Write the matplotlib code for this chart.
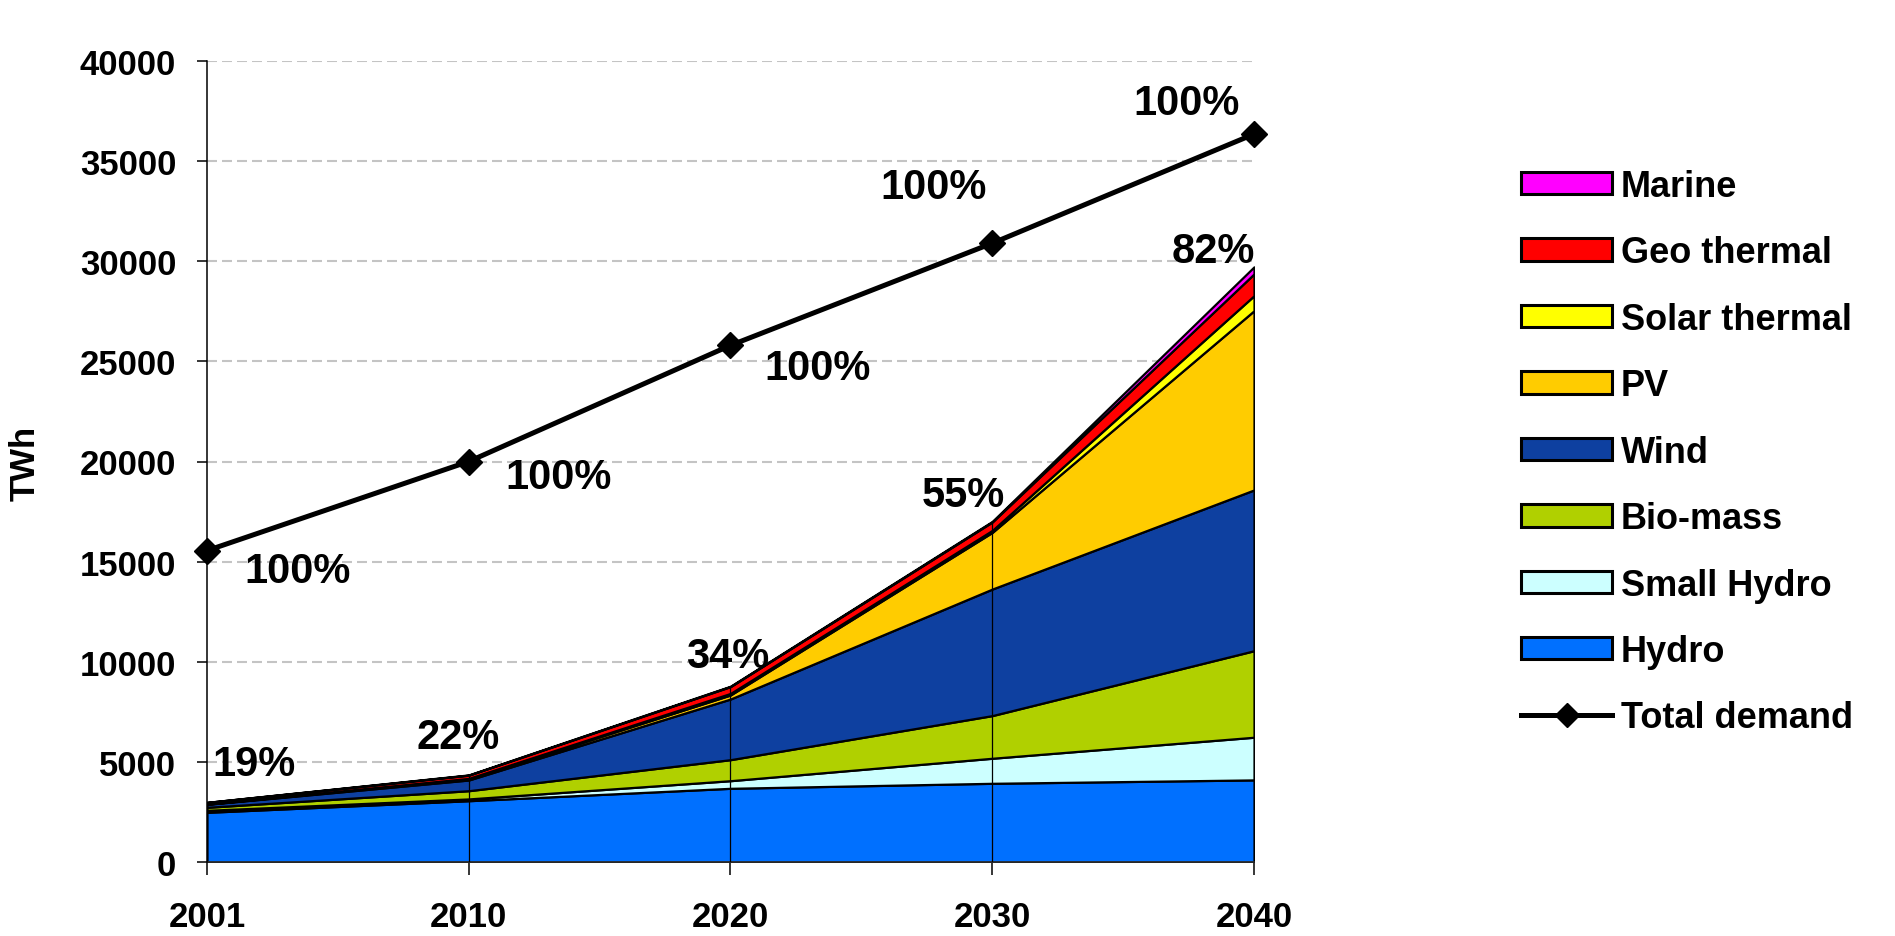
import matplotlib
matplotlib.use("Agg")
import matplotlib.pyplot as plt
from matplotlib.patches import Patch
from matplotlib.lines import Line2D
import numpy as np

plt.rcParams['font.family'] = ['Liberation Sans', 'DejaVu Sans']
plt.rcParams['lines.scale_dashes'] = False

# ---- data ----
years = ["2001", "2010", "2020", "2030", "2040"]
hydro = [2480, 3060, 3680, 3930, 4100]
small_hydro = [100, 90, 380, 1250, 2130]
bio_mass = [150, 410, 1050, 2130, 4320]
wind = [150, 535, 3030, 6320, 8030]
pv = [10, 60, 200, 2830, 8950]
solar_thermal = [5, 20, 80, 100, 750]
geo_thermal = [80, 160, 340, 420, 1090]
marine = [5, 15, 20, 30, 350]
total_demand = [15550, 20000, 25800, 30900, 36350]
renewable_share = ["19%", "22%", "34%", "55%", "82%"]
demand_share = ["100%", "100%", "100%", "100%", "100%"]

series_names = ["Hydro", "Small Hydro", "Bio-mass", "Wind", "PV",
                "Solar thermal", "Geo thermal", "Marine"]
series = [hydro, small_hydro, bio_mass, wind, pv, solar_thermal, geo_thermal, marine]
colors = ["#0070FF", "#CCFFFF", "#B0D000", "#0E40A0", "#FFCC00",
          "#FFFF00", "#FF0000", "#FF00FF"]

W, H = 1895, 937
fig = plt.figure(figsize=(W / 100, H / 100), dpi=100)
fig.patch.set_facecolor("white")
ax = fig.add_axes([207 / W, (H - 863) / H, 1047 / W, 801 / H])

x = np.arange(len(years))
ax.stackplot(x, *series, colors=colors, edgecolor="black", linewidth=1.6, zorder=2)

stack_total = np.sum(np.array(series), axis=0)
ax.vlines(x[1:-1], 0, stack_total[1:-1], colors="black", linewidth=0.9, zorder=3)

ax.plot(x, total_demand, color="black", lw=3.6, marker="D", ms=13,
        clip_on=False, zorder=5)

# labels
demand_off = [(91, -20), (90, -16), (87, -23), (-59, 56), (-67, 31)]
share_off = [(47, 38), (-11, 38), (-3, 30), (-29, 26), (-41, 16)]
for i in range(len(years)):
    ax.annotate(demand_share[i], (x[i], total_demand[i]), xytext=demand_off[i],
                textcoords="offset pixels", ha="center", va="center",
                fontsize=30, fontweight="bold", zorder=6, annotation_clip=False)
    ax.annotate(renewable_share[i], (x[i], stack_total[i]), xytext=share_off[i],
                textcoords="offset pixels", ha="center", va="center",
                fontsize=30, fontweight="bold", zorder=6, annotation_clip=False)

ax.set_xlim(0, 4)
ax.set_ylim(0, 40000)
ax.set_yticks(np.arange(0, 40001, 5000))
ax.set_xticks(x)
ax.set_xticklabels(years)
ax.set_axisbelow(True)
ax.yaxis.grid(True, linestyle=(0, (7.2, 3.6)), color="#c4c4c4", linewidth=1.5)
ax.xaxis.grid(False)

for s in ["top", "right"]:
    ax.spines[s].set_visible(False)
ax.spines["left"].set_linewidth(1.1)
ax.spines["bottom"].set_linewidth(1.1)
ax.spines["bottom"].set_color("#333333")
ax.spines["left"].set_zorder(4)
ax.tick_params(axis="y", direction="out", length=7.2, width=1.1, pad=15,
               labelsize=25)
ax.tick_params(axis="x", direction="out", length=9.4, width=1.1, pad=18,
               labelsize=25)
for lab in ax.get_xticklabels() + ax.get_yticklabels():
    lab.set_fontweight("bold")

fig.text(25 / W, 1 - 463 / H, "TWh", rotation=90, ha="center", va="center",
         fontsize=25, fontweight="bold")

# legend (top-to-bottom order as in reference)
handles = [Patch(facecolor=c, edgecolor="black", linewidth=2.2) for c in colors[::-1]]
labels = series_names[::-1]
handles.append(Line2D([0], [0], color="black", lw=3.6, marker="D", ms=12))
labels.append("Total demand")
leg = fig.legend(handles, labels, loc="upper left",
                 bbox_to_anchor=(1521 / W, 1 - 170 / H),
                 frameon=False, prop={"weight": "bold", "size": 26},
                 handlelength=2.52, handleheight=0.58, handletextpad=0.25,
                 labelspacing=0.87, borderpad=0, borderaxespad=0)

fig.savefig("out.png", dpi=100, facecolor="white")
